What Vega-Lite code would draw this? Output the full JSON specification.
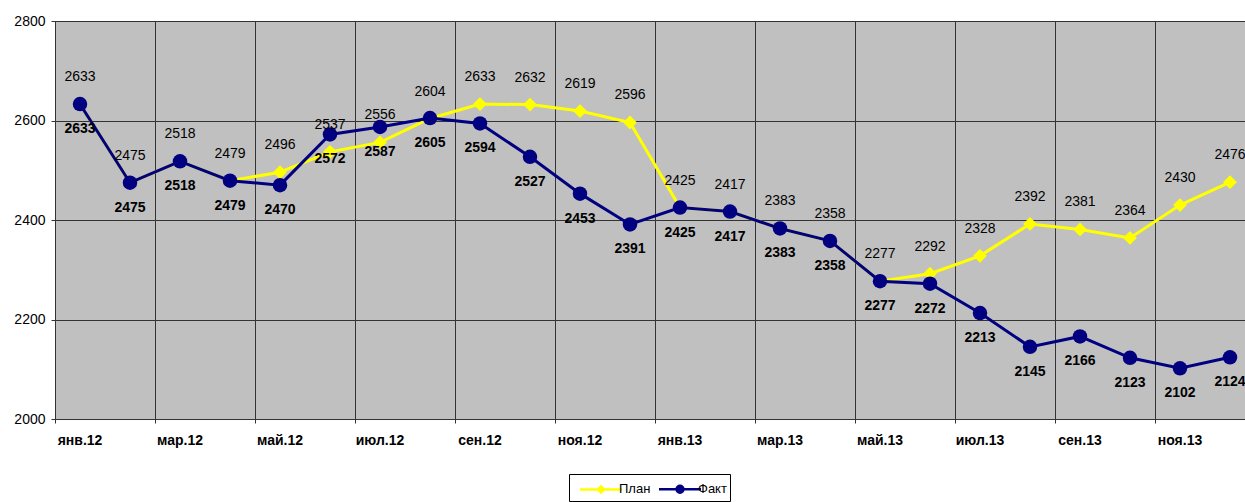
{
  "$schema": "https://vega.github.io/schema/vega-lite/v6.json",
  "width": 1190,
  "height": 398,
  "autosize": {"type": "none"},
  "padding": {"left": 55, "top": 21, "right": 0, "bottom": 83},
  "background": "white",
  "config": {
    "font": "Liberation Sans",
    "view": {"fill": "#C0C0C0", "stroke": "#333333", "strokeWidth": 1},
    "legend": {
      "title": null, "orient": "none", "legendX": 514, "legendY": 453, "direction": "horizontal",
      "strokeColor": "#000000", "padding": 3, "labelFontSize": 13, "labelColor": "black",
      "symbolSize": 441, "symbolStrokeWidth": 2.5, "symbolOpacity": 1, "symbolOffset": 17,
      "columnPadding": 0, "labelOffset": 6
    }
  },
  "data": {"values": [
    {"month": "янв.12", "series": "План", "value": 2633},
    {"month": "фев.12", "series": "План", "value": 2475},
    {"month": "мар.12", "series": "План", "value": 2518},
    {"month": "апр.12", "series": "План", "value": 2479},
    {"month": "май.12", "series": "План", "value": 2496},
    {"month": "июн.12", "series": "План", "value": 2537},
    {"month": "июл.12", "series": "План", "value": 2556},
    {"month": "авг.12", "series": "План", "value": 2604},
    {"month": "сен.12", "series": "План", "value": 2633},
    {"month": "окт.12", "series": "План", "value": 2632},
    {"month": "ноя.12", "series": "План", "value": 2619},
    {"month": "дек.12", "series": "План", "value": 2596},
    {"month": "янв.13", "series": "План", "value": 2425},
    {"month": "фев.13", "series": "План", "value": 2417},
    {"month": "мар.13", "series": "План", "value": 2383},
    {"month": "апр.13", "series": "План", "value": 2358},
    {"month": "май.13", "series": "План", "value": 2277},
    {"month": "июн.13", "series": "План", "value": 2292},
    {"month": "июл.13", "series": "План", "value": 2328},
    {"month": "авг.13", "series": "План", "value": 2392},
    {"month": "сен.13", "series": "План", "value": 2381},
    {"month": "окт.13", "series": "План", "value": 2364},
    {"month": "ноя.13", "series": "План", "value": 2430},
    {"month": "дек.13", "series": "План", "value": 2476},
    {"month": "янв.12", "series": "Факт", "value": 2633},
    {"month": "фев.12", "series": "Факт", "value": 2475},
    {"month": "мар.12", "series": "Факт", "value": 2518},
    {"month": "апр.12", "series": "Факт", "value": 2479},
    {"month": "май.12", "series": "Факт", "value": 2470},
    {"month": "июн.12", "series": "Факт", "value": 2572},
    {"month": "июл.12", "series": "Факт", "value": 2587},
    {"month": "авг.12", "series": "Факт", "value": 2605},
    {"month": "сен.12", "series": "Факт", "value": 2594},
    {"month": "окт.12", "series": "Факт", "value": 2527},
    {"month": "ноя.12", "series": "Факт", "value": 2453},
    {"month": "дек.12", "series": "Факт", "value": 2391},
    {"month": "янв.13", "series": "Факт", "value": 2425},
    {"month": "фев.13", "series": "Факт", "value": 2417},
    {"month": "мар.13", "series": "Факт", "value": 2383},
    {"month": "апр.13", "series": "Факт", "value": 2358},
    {"month": "май.13", "series": "Факт", "value": 2277},
    {"month": "июн.13", "series": "Факт", "value": 2272},
    {"month": "июл.13", "series": "Факт", "value": 2213},
    {"month": "авг.13", "series": "Факт", "value": 2145},
    {"month": "сен.13", "series": "Факт", "value": 2166},
    {"month": "окт.13", "series": "Факт", "value": 2123},
    {"month": "ноя.13", "series": "Факт", "value": 2102},
    {"month": "дек.13", "series": "Факт", "value": 2124}
  ]},
  "encoding": {
    "x": {
      "field": "month", "type": "ordinal", "sort": null,
      "scale": {"type": "band", "paddingInner": 0, "paddingOuter": 0, "range": [0, 1200]},
      "axis": {
        "title": null,
        "values": ["янв.12","мар.12","май.12","июл.12","сен.12","ноя.12","янв.13","мар.13","май.13","июл.13","сен.13","ноя.13"],
        "bandPosition": 0,
        "labelOffset": 0,
        "labelAngle": 0,
        "labelFontSize": 14,
        "labelFontWeight": "bold",
        "labelColor": "black",
        "labelPadding": 10,
        "tickSize": 4,
        "tickColor": "#333333",
        "domainColor": "#333333",
        "grid": true,
        "gridColor": "#333333",
        "gridWidth": 1
      }
    },
    "y": {
      "field": "value", "type": "quantitative",
      "scale": {"domain": [2000, 2800], "zero": false, "nice": false},
      "axis": {
        "title": null,
        "values": [2000, 2200, 2400, 2600, 2800],
        "format": "d",
        "labelFontSize": 14,
        "labelColor": "black",
        "labelPadding": 6,
        "tickSize": 4,
        "tickColor": "#333333",
        "domainColor": "#333333",
        "grid": true,
        "gridColor": "#333333",
        "gridWidth": 1
      }
    }
  },
  "layer": [
    {
      "mark": {"type": "point", "filled": true, "opacity": 0},
      "encoding": {
        "fill": {"field": "series", "type": "nominal", "scale": {"domain": ["План", "Факт"], "range": ["#FFFF00", "#000080"]}},
        "stroke": {"field": "series", "type": "nominal", "scale": {"domain": ["План", "Факт"], "range": ["#FFFF00", "#000080"]}},
        "shape": {"field": "series", "type": "nominal", "scale": {"domain": ["План", "Факт"], "range": [
            "M-2,0L2,0M0,-0.29L0.29,0L0,0.29L-0.29,0Z",
            "M-2,0L2,0M0.33,0A0.33,0.33,0,1,1,-0.33,0A0.33,0.33,0,1,1,0.33,0Z"]}}
      }
    },
    {
      "transform": [{"filter": "datum.series === 'План'"}],
      "mark": {"type": "line", "color": "#FFFF00", "strokeWidth": 3}
    },
    {
      "transform": [{"filter": "datum.series === 'План'"}],
      "mark": {"type": "point", "shape": "diamond", "filled": true, "color": "#FFFF00", "size": 190, "opacity": 1}
    },
    {
      "transform": [{"filter": "datum.series === 'Факт'"}],
      "mark": {"type": "line", "color": "#000080", "strokeWidth": 3}
    },
    {
      "transform": [{"filter": "datum.series === 'Факт'"}],
      "mark": {"type": "point", "shape": "circle", "filled": true, "color": "#000080", "size": 210, "opacity": 1}
    },
    {
      "transform": [{"filter": "datum.series === 'План'"}],
      "mark": {"type": "text", "dy": -27, "fontSize": 14, "color": "black", "baseline": "middle"},
      "encoding": {"text": {"field": "value", "type": "quantitative", "format": "d"}}
    },
    {
      "transform": [{"filter": "datum.series === 'Факт'"}],
      "mark": {"type": "text", "dy": 25, "fontSize": 14, "fontWeight": "bold", "color": "black", "baseline": "middle"},
      "encoding": {"text": {"field": "value", "type": "quantitative", "format": "d"}}
    }
  ]
}
